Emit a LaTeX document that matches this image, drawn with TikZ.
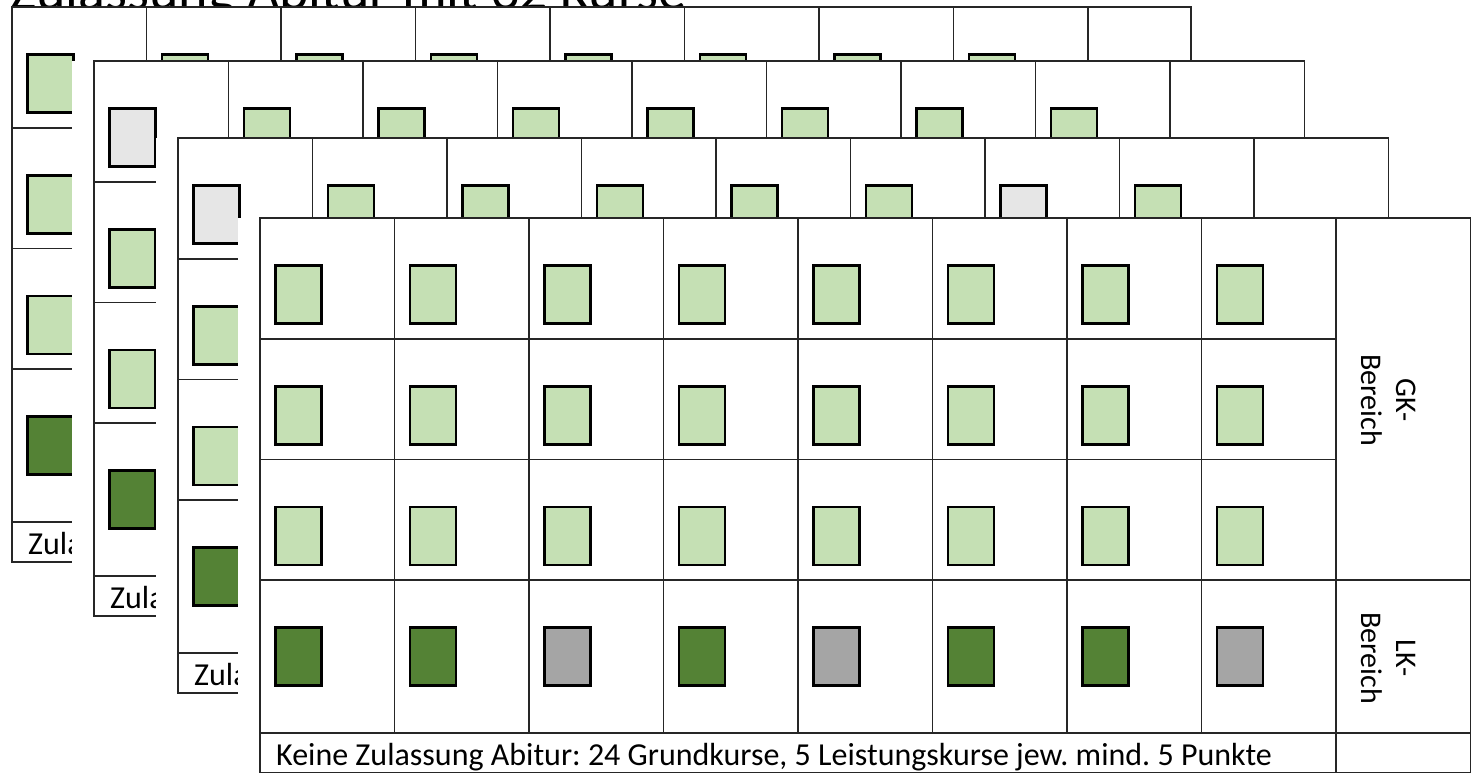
\documentclass[tikz,border=0pt]{standalone}
\usepackage{fontspec}
\setmainfont{Carlito}
\usetikzlibrary{positioning}
\frenchspacing

\definecolor{gkgruen}{HTML}{C5E0B4}
\definecolor{lkgruen}{HTML}{548235}
\definecolor{lkgrau}{HTML}{A5A5A5}
\definecolor{offen}{HTML}{E6E6E6}

% #1 name, #2 left, #3 top, #4 right, #5-#8 colours of the four rows, #9 last line
\newcommand{\kursblatt}[9]{%
  \fill[white] (#2-22,#3) rectangle (#4,#3+555);
  \draw[gitter] (#2,#3) rectangle (#4,#3+555);
  \foreach \k in {1,...,7}
    \draw[gitter] (#2+134.5*\k,#3) -- (#2+134.5*\k,#3+515);
  \draw[gitter] (#2+134.5*8,#3) -- (#2+134.5*8,#3+555);
  \draw[gitter] (#2,#3+121) -- (#2+134.5*8,#3+121);
  \draw[gitter] (#2,#3+241.5) -- (#2+134.5*8,#3+241.5);
  \draw[gitter] (#2,#3+362) -- (#4,#3+362);
  \draw[gitter] (#2,#3+515) -- (#4,#3+515);
  \foreach \c [count=\i] in {#5}
    \node[kurs, fill=\c] (#1-a\i) at (#2+134.5*\i-96,#3+76.5) {};
  \foreach \c [count=\i] in {#6}
    \node[kurs, fill=\c] (#1-b\i) at (#2+134.5*\i-96,#3+197.5) {};
  \foreach \c [count=\i] in {#7}
    \node[kurs, fill=\c] (#1-c\i) at (#2+134.5*\i-96,#3+318) {};
  \foreach \c [count=\i] in {#8}
    \node[kurs, fill=\c] (#1-lk\i) at (#2+134.5*\i-96,#3+438.5) {};
  \node[zeile] (#1-text) at (#2+16,#3+547) {#9};
}

\begin{document}
\begin{tikzpicture}[
  x=1pt, y=-1pt,
  kurs/.style={
    rectangle, draw=black, line width=2.3pt,
    minimum width=46pt, minimum height=58pt,
    inner sep=0pt, outer sep=0pt
  },
  gitter/.style={draw=black!85, line width=1.5pt},
  zeile/.style={anchor=base west, inner sep=0pt, font=\fontsize{32}{38}\selectfont},
  bereich/.style={rotate=-90, align=center, inner sep=0pt, font=\fontsize{30}{35}\selectfont},
  titel/.style={anchor=base west, inner sep=0pt, font=\fontsize{56}{60}\selectfont}
]
\useasboundingbox (0,0) rectangle (1472,772);
\clip (0,0) rectangle (1472,772);
\fill[white] (0,0) rectangle (1472,772);

\node[titel] (titel) at (10,9) {Zulassung Abitur mit 32 Kurse};

% hintere Blaetter
\kursblatt{eins}{12}{7}{1191}
  {gkgruen,gkgruen,gkgruen,gkgruen,gkgruen,gkgruen,gkgruen,gkgruen}
  {gkgruen}{gkgruen}{lkgruen}{Zulassung}
\kursblatt{zwei}{94}{61}{1304.5}
  {offen,gkgruen,gkgruen,gkgruen,gkgruen,gkgruen,gkgruen,gkgruen}
  {gkgruen}{gkgruen}{lkgruen}{Zulassung}
\kursblatt{drei}{178}{138}{1388.5}
  {offen,gkgruen,gkgruen,gkgruen,gkgruen,gkgruen,offen,gkgruen}
  {gkgruen}{gkgruen}{lkgruen}{Zulassung}

% vorderes Blatt
\kursblatt{vorn}{260}{218}{1470.5}
  {gkgruen,gkgruen,gkgruen,gkgruen,gkgruen,gkgruen,gkgruen,gkgruen}
  {gkgruen,gkgruen,gkgruen,gkgruen,gkgruen,gkgruen,gkgruen,gkgruen}
  {gkgruen,gkgruen,gkgruen,gkgruen,gkgruen,gkgruen,gkgruen,gkgruen}
  {lkgruen,lkgruen,lkgrau,lkgruen,lkgrau,lkgruen,lkgruen,lkgrau}
  {Keine Zulassung Abitur: 24 Grundkurse, 5 Leistungskurse jew. mind. 5 Punkte}

\node[bereich] (gk) at (1389,400) {GK-\\Bereich};
\node[bereich] (lk) at (1389,658) {LK-\\Bereich};
\end{tikzpicture}
\end{document}
